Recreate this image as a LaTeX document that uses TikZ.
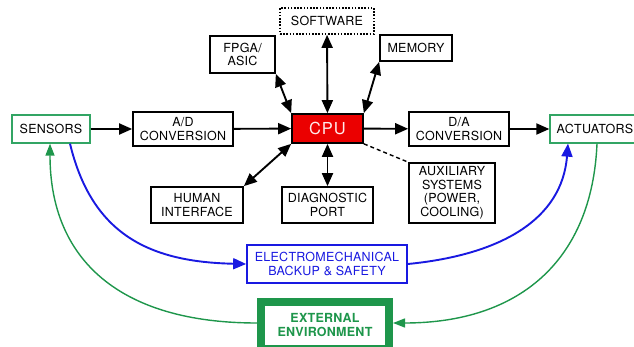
\documentclass[tikz,border=0pt]{standalone}
\usepackage{fontspec}
\setmainfont{TeX Gyre Heros}
\usetikzlibrary{arrows.meta}
\definecolor{cpured}{RGB}{235,0,0}
\definecolor{sgreen}{RGB}{50,165,100}
\definecolor{egreen}{RGB}{30,150,75}
\definecolor{eblue}{RGB}{25,25,225}
\begin{document}
\begin{tikzpicture}[x=1pt,y=-1pt,
  txt/.style={font=\fontsize{12.5}{13.5}\selectfont\addfontfeature{LetterSpace=2}},
  box/.style={txt,draw=black,line width=1.7pt,fill=white,align=center,inner sep=0pt},
  arr/.style={line width=1.9pt,-{Triangle[length=13pt,width=11pt]}},
  darr/.style={line width=1.9pt,{Triangle[length=13pt,width=11pt]}-{Triangle[length=13pt,width=11pt]}},
  barr/.style={draw=eblue,line width=1.9pt,-{Triangle[length=13pt,width=11pt]}},
  garr/.style={draw=egreen,line width=1.4pt,-{Triangle[length=12pt,width=9pt]}},
]
\useasboundingbox (0,0) rectangle (634,347);
% boxes
\node[box,draw=sgreen,line width=1.3pt,minimum width=78pt,minimum height=28pt] (sens) at (51,129) {SENSORS};
\node[box,minimum width=100pt,minimum height=34pt] (ad) at (183,129) {A/D\\CONVERSION};
\node[box,fill=cpured,text=white!92!red,minimum width=71pt,minimum height=29pt,font=\fontsize{16.5}{18}\selectfont\addfontfeature{LetterSpace=6}] (cpu) at (327.5,128.5) {CPU};
\node[box,minimum width=65pt,minimum height=37pt] (fpga) at (242.5,54.5) {FPGA/\\ASIC};
\node[box,dash pattern=on 1.6pt off 1.6pt,minimum width=94pt,minimum height=26pt] (soft) at (327,21) {SOFTWARE};
\node[box,minimum width=72pt,minimum height=26pt] (mem) at (416,48) {MEMORY};
\node[box,minimum width=100pt,minimum height=34pt] (da) at (459,129) {D/A\\CONVERSION};
\node[box,draw=sgreen,line width=1.3pt,minimum width=90pt,minimum height=28pt] (act) at (595,129) {ACTUATORS};
\node[box,minimum width=86pt,minimum height=60pt] (aux) at (452,193) {AUXILIARY\\SYSTEMS\\(POWER,\\COOLING)};
\node[box,minimum width=91pt,minimum height=36pt] (diag) at (327.5,205) {DIAGNOSTIC\\PORT};
\node[box,minimum width=92pt,minimum height=36pt] (human) at (197,205) {HUMAN\\INTERFACE};
\node[box,draw=eblue,text=eblue,minimum width=160pt,minimum height=38pt] (em) at (327,264) {ELECTROMECHANICAL\\BACKUP \& SAFETY};
\node[box,draw=egreen,text=egreen,line width=8pt,outer sep=4pt,minimum width=128pt,minimum height=47pt,font=\fontsize{12.5}{14}\selectfont\bfseries\addfontfeature{LetterSpace=2}] (ext) at (325,325.5) {EXTERNAL\\ENVIRONMENT};
% black connectors
\draw[arr] (sens) -- (ad);
\draw[arr] (ad) -- (cpu);
\draw[arr] (cpu) -- (da);
\draw[arr] (da) -- (act);
\draw[darr] (cpu) -- (soft);
\draw[darr] (cpu) -- (diag);
\draw[darr] (cpu.north west) -- (fpga.south east);
\draw[darr] (cpu.north east) -- (mem.south west);
\draw[darr] (cpu.south west) -- (human.north east);
\draw[line width=1.4pt,dash pattern=on 4pt off 3pt] (cpu.south east) -- (aux.north west);
% blue connectors
\draw[barr] ([xshift=19pt]sens.south) .. controls (92,235) and (150,262) .. (em.west);
\draw[barr] (em.east) .. controls (500,255) and (562,220) .. ([xshift=-27pt]act.south);
% green connectors
\draw[garr] ([yshift=2.5pt]ext.west) .. controls (120,323) and (50,260) .. ([xshift=-1pt]sens.south);
\draw[garr] ([xshift=2pt]act.south) .. controls (592,260) and (520,323) .. ([yshift=2.5pt]ext.east);
\end{tikzpicture}
\end{document}
